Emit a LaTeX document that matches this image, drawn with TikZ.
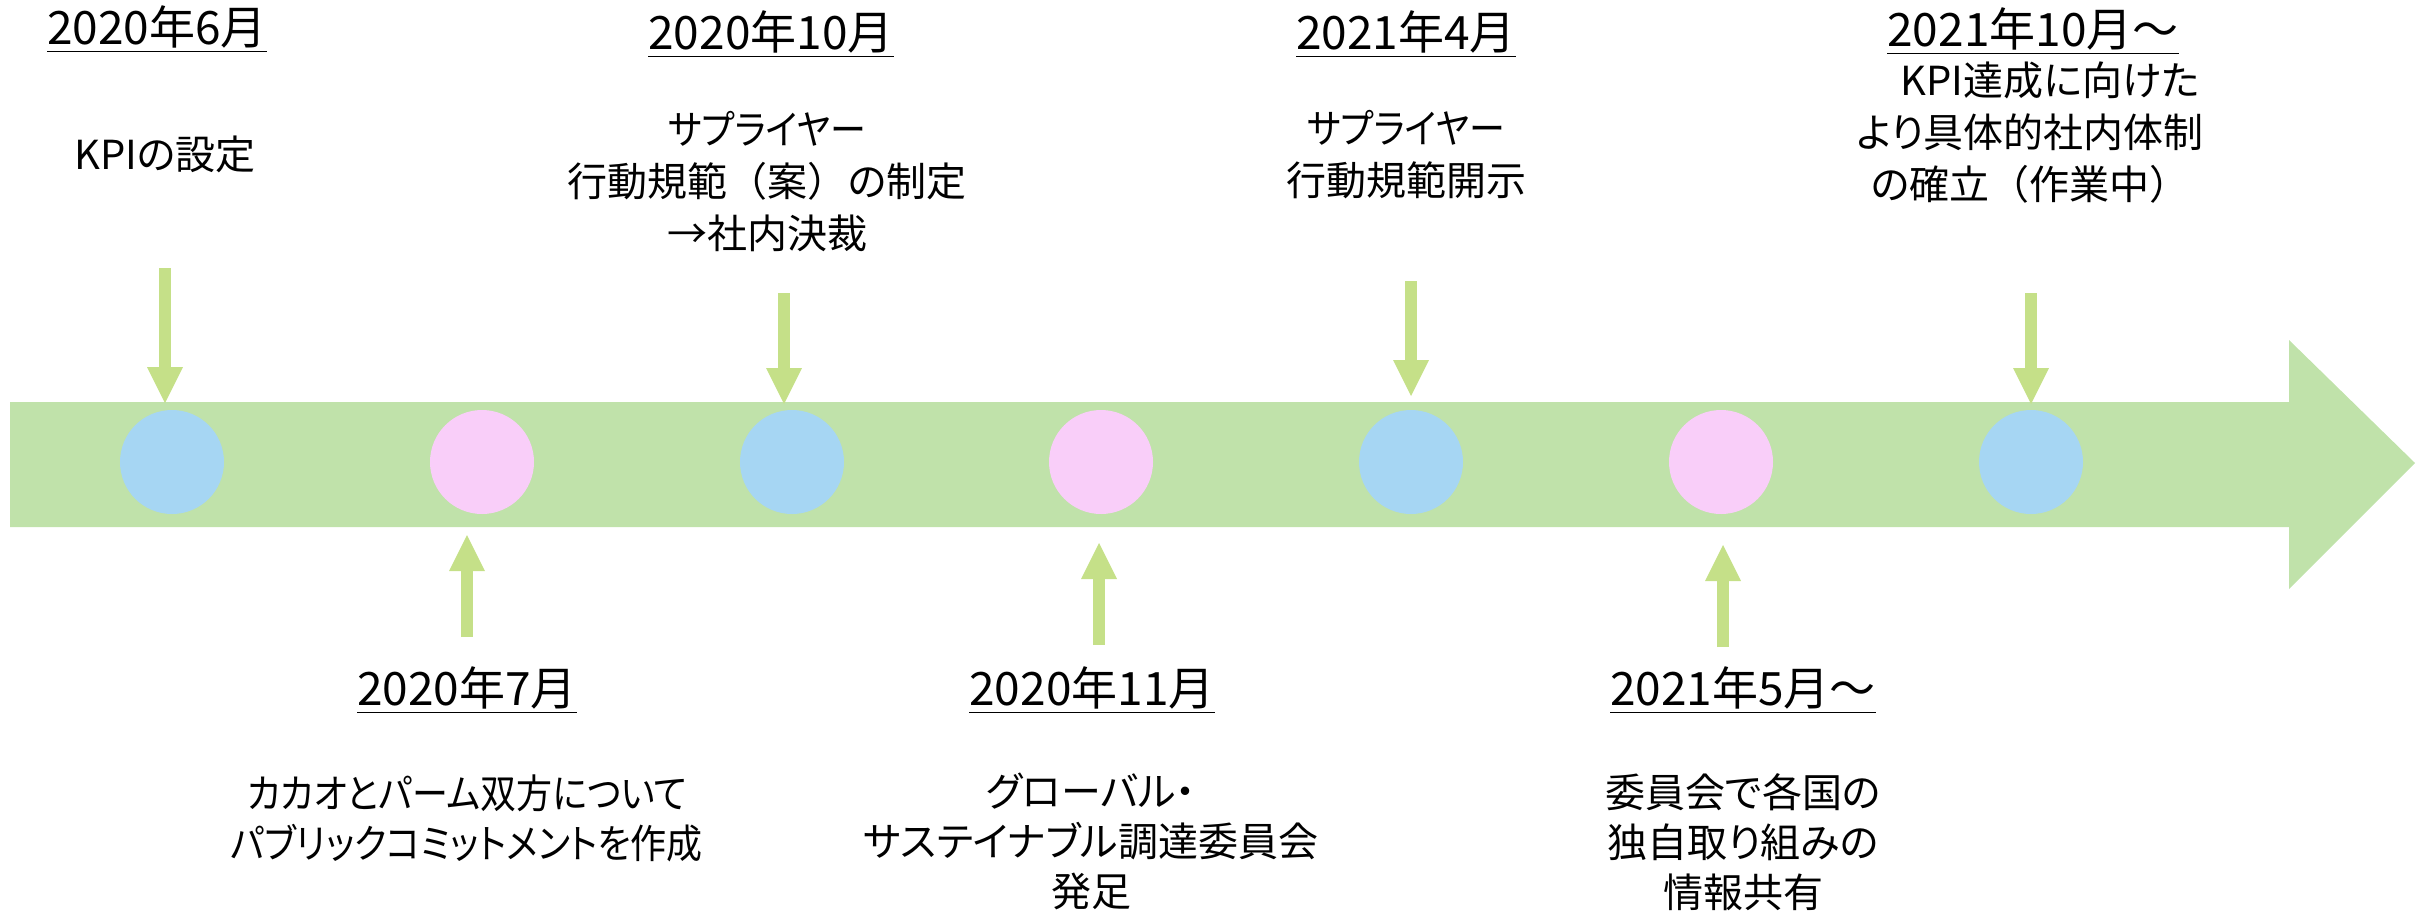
\documentclass[tikz,border=0pt]{standalone}
\usepackage{fontspec}
\setmainfont{Noto Sans CJK JP}[RawFeature={+palt}]
\newfontfamily\fwfont{Noto Sans CJK JP}
\newfontfamily\narrowkana{Noto Sans CJK JP}[RawFeature={+palt}, FakeStretch=0.9]
\usetikzlibrary{arrows.meta}
\definecolor{band}{RGB}{192,226,170}
\definecolor{arr}{RGB}{197,224,136}
\definecolor{dotblue}{RGB}{166,214,243}
\definecolor{dotpink}{RGB}{249,206,249}
\newcommand{\fwp}[1]{{\fwfont #1}}
\begin{document}
\begin{tikzpicture}[x=0.5pt,y=-0.5pt,
  lbl/.style={font=\fontsize{20pt}{26pt}\selectfont, align=center, inner sep=0pt},
  lblb/.style={font=\fontsize{20pt}{25pt}\selectfont, align=center, inner sep=0pt},
  datelbl/.style={font=\fontsize{23pt}{28pt}\selectfont, align=center, inner sep=0pt},
  dot/.style={circle, inner sep=0pt, minimum size=52pt},
  bluedot/.style={dot, fill=dotblue},
  pinkdot/.style={dot, fill=dotpink},
  blockarrow/.style={draw=arr, line width=6pt, -{Triangle[width=18pt,length=18pt,line width=0pt]}}]
\useasboundingbox (0,0) rectangle (2420,917);
% timeline band
\fill[band] (10,402) -- (2289,402) -- (2289,340) -- (2415,463) -- (2289,589) -- (2289,527) -- (10,527) -- cycle;
% circles
\node[bluedot] (c1) at (172,462) {};
\node[pinkdot] (c2) at (482,462) {};
\node[bluedot] (c3) at (792,462) {};
\node[pinkdot] (c4) at (1101,462) {};
\node[bluedot] (c5) at (1411,462) {};
\node[pinkdot] (c6) at (1721,462) {};
\node[bluedot] (c7) at (2031,462) {};
% arrow coordinates
\coordinate (a1s) at (165,268); \coordinate (a1e) at (165,403);
\coordinate (a2s) at (784,293); \coordinate (a2e) at (784,404);
\coordinate (a3s) at (1411,281); \coordinate (a3e) at (1411,396);
\coordinate (a4s) at (2031,293); \coordinate (a4e) at (2031,404);
\coordinate (u1s) at (467,637); \coordinate (u1e) at (467,535);
\coordinate (u2s) at (1099,645); \coordinate (u2e) at (1099,543);
\coordinate (u3s) at (1723,647); \coordinate (u3e) at (1723,545);
\draw[blockarrow] (a1s) -- (a1e);
\draw[blockarrow] (a2s) -- (a2e);
\draw[blockarrow] (a3s) -- (a3e);
\draw[blockarrow] (a4s) -- (a4e);
\draw[blockarrow] (u1s) -- (u1e);
\draw[blockarrow] (u2s) -- (u2e);
\draw[blockarrow] (u3s) -- (u3e);
% top labels
\node[datelbl] (d1) at (157,29) {\underline{2020年6月}};
\node[lbl] (t1) at (165,154) {KPIの設定};
\node[datelbl] (d2) at (771,34) {\underline{2020年10月}};
\node[lbl] (t2) at (767,182) {{\narrowkana サプライヤー}\\行動規範\fwp{（}案\fwp{）}の制定\\→社内決裁};
\node[datelbl] (d3) at (1406,34) {\underline{2021年4月}};
\node[lbl] (t3) at (1406,155) {{\narrowkana サプライヤー}\\行動規範開示};
\node[datelbl] (d4) at (2033,31) {\underline{2021年10月～}};
\node[lbl] (t4) at (2030,133) {\hspace*{20pt}KPI達成に向けた\\より具体的社内体制\\の確立\fwp{（}作業中\fwp{）}};
% bottom labels
\node[datelbl] (d5) at (467,690) {\underline{2020年7月}};
\node[lblb] (t5) at (467,818) {{\narrowkana カカオとパーム双方について}\\{\narrowkana パブリックコミットメントを作成}};
\node[datelbl] (d6) at (1092,690) {\underline{2020年11月}};
\node[lblb] (t6) at (1091,841) {グローバル・\\サステイナブル調達委員会\\発足};
\node[datelbl] (d7) at (1743,690) {\underline{2021年5月～}};
\node[lblb] (t7) at (1743,842) {委員会で各国の\\独自取り組みの\\情報共有};
\end{tikzpicture}
\end{document}
